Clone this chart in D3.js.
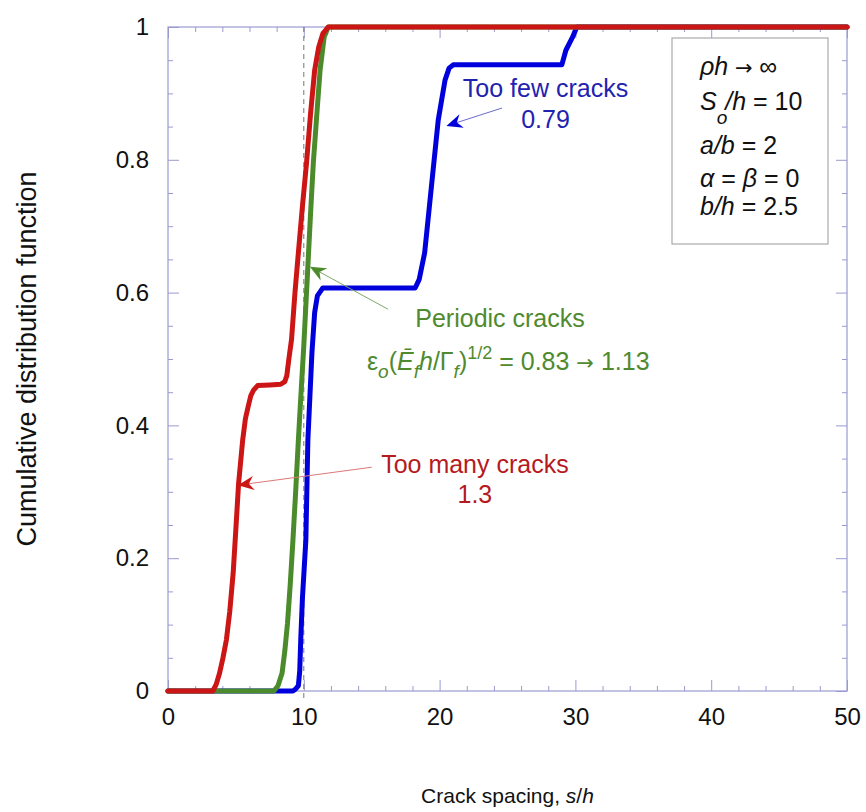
<!DOCTYPE html>
<html>
<head>
<meta charset="utf-8">
<script src="https://cdn.jsdelivr.net/npm/d3@7"></script>
<style>
  body { margin: 0; background: #fff; }
  svg text { font-family: "Liberation Sans", Arial, sans-serif; }
</style>
</head>
<body>
<div id="chart"></div>
<script>
// ==============================
// DATA (crack spacing s/h, CDF)
// ==============================

const tooManyCracks = [
  [0, 0], [3.3, 0], [3.55, 0.01], [3.8, 0.027], [4.05, 0.05], [4.3, 0.077],
  [4.55, 0.12], [4.8, 0.178], [5.0, 0.245], [5.2, 0.313], [5.5, 0.378],
  [5.7, 0.41], [5.9, 0.428], [6.1, 0.445], [6.3, 0.453], [6.6, 0.46],
  [7.5, 0.461], [8.3, 0.462], [8.6, 0.466], [8.75, 0.475], [8.9, 0.5],
  [9.1, 0.53], [9.35, 0.6], [9.6, 0.66], [9.9, 0.73], [10.2, 0.795],
  [10.5, 0.87], [10.8, 0.935], [11.1, 0.97], [11.4, 0.99], [11.8, 1], [50, 1],
];

const periodicCracks = [
  [0, 0], [7.8, 0], [8.1, 0.008], [8.4, 0.027], [8.6, 0.06], [8.8, 0.102],
  [9.0, 0.16], [9.2, 0.227], [9.4, 0.3], [9.6, 0.378], [9.8, 0.45],
  [10.0, 0.52], [10.3, 0.64], [10.5, 0.72], [10.7, 0.795], [11.0, 0.88],
  [11.2, 0.935], [11.5, 0.985], [11.8, 1], [50, 1],
];

const tooFewCracks = [
  [0, 0], [9.2, 0], [9.4, 0.003], [9.6, 0.008], [9.7, 0.03], [9.78, 0.08],
  [9.9, 0.14], [10.15, 0.227], [10.3, 0.378], [10.6, 0.51], [10.8, 0.57],
  [11.0, 0.595], [11.4, 0.607], [18.2, 0.607], [18.5, 0.62], [18.9, 0.66],
  [19.4, 0.76], [19.9, 0.86], [20.4, 0.92], [20.7, 0.938], [21.0, 0.943],
  [29.0, 0.943], [29.3, 0.965], [29.8, 0.985], [30.1, 1], [50, 1],
];

const xTicks = [0, 10, 20, 30, 40, 50];
const yTicks = [0, 0.2, 0.4, 0.6, 0.8, 1];

const legendLines = [
  'ρh → ∞',
  'S/h = 10',
  'a/b = 2',
  'α = β = 0',
  'b/h = 2.5',
];

// ==============================
// LAYOUT
// ==============================

const W = 866;
const H = 812;
const plot = { left: 168, right: 847, top: 27, bottom: 691 };
const axisColor = '#9a9ad0';

const colors = {
  many: '#cc1515',
  periodic: '#4b8b2b',
  few: '#0000dd',
  manyText: '#b51a1e',
  periodicText: '#4f8a2f',
  fewText: '#2222b0',
};

const svg = d3
  .select('#chart')
  .append('svg')
  .attr('width', W)
  .attr('height', H);

const x = d3.scaleLinear().domain([0, 50]).range([plot.left, plot.right]);
const y = d3.scaleLinear().domain([0, 1]).range([plot.bottom, plot.top]);

// ==============================
// AXES (inside ticks on all four sides)
// ==============================

const minorX = d3.range(0, 51, 2).filter((v) => v % 10 !== 0);
const minorY = d3.range(0, 1.001, 0.05).filter((v) => Math.abs(v * 5 - Math.round(v * 5)) > 1e-6);

function styleAxis(g) {
  g.select('.domain').remove();
  g.selectAll('line').attr('stroke', axisColor);
  g.selectAll('text')
    .attr('fill', '#111')
    .style('font-size', '24px');
}

svg.append('g')
  .attr('transform', `translate(0,${plot.bottom})`)
  .call(d3.axisBottom(x).tickValues(xTicks).tickSize(-11).tickPadding(17).tickFormat(d3.format('~g')))
  .call(styleAxis);
svg.append('g')
  .attr('transform', `translate(0,${plot.bottom})`)
  .call(d3.axisBottom(x).tickValues(minorX).tickSize(-5).tickFormat(''))
  .call(styleAxis);
svg.append('g')
  .attr('transform', `translate(0,${plot.top})`)
  .call(d3.axisTop(x).tickValues(xTicks).tickSize(-11).tickFormat(''))
  .call(styleAxis);
svg.append('g')
  .attr('transform', `translate(0,${plot.top})`)
  .call(d3.axisTop(x).tickValues(minorX).tickSize(-5).tickFormat(''))
  .call(styleAxis);

svg.append('g')
  .attr('transform', `translate(${plot.left},0)`)
  .call(d3.axisLeft(y).tickValues(yTicks).tickSize(-11).tickPadding(19).tickFormat(d3.format('~g')))
  .call(styleAxis);
svg.append('g')
  .attr('transform', `translate(${plot.left},0)`)
  .call(d3.axisLeft(y).tickValues(minorY).tickSize(-5).tickFormat(''))
  .call(styleAxis);
svg.append('g')
  .attr('transform', `translate(${plot.right},0)`)
  .call(d3.axisRight(y).tickValues(yTicks).tickSize(-11).tickFormat(''))
  .call(styleAxis);
svg.append('g')
  .attr('transform', `translate(${plot.right},0)`)
  .call(d3.axisRight(y).tickValues(minorY).tickSize(-5).tickFormat(''))
  .call(styleAxis);

// frame
svg.append('rect')
  .attr('x', plot.left)
  .attr('y', plot.top)
  .attr('width', plot.right - plot.left)
  .attr('height', plot.bottom - plot.top)
  .attr('fill', 'none')
  .attr('stroke', axisColor)
  .attr('stroke-width', 1.2);

// dashed reference line at s/h = 10
svg.append('line')
  .attr('x1', x(10))
  .attr('x2', x(10))
  .attr('y1', y(1))
  .attr('y2', y(0) + 10)
  .attr('stroke', '#777')
  .attr('stroke-width', 1)
  .attr('stroke-dasharray', '5,4');

// axis titles
svg.append('text')
  .attr('x', (plot.left + plot.right) / 2)
  .attr('y', 803)
  .attr('text-anchor', 'middle')
  .style('font-size', '21px')
  .attr('fill', '#111')
  .call((t) => {
    t.append('tspan').text('Crack spacing, ');
    t.append('tspan').attr('font-style', 'italic').text('s');
    t.append('tspan').text('/');
    t.append('tspan').attr('font-style', 'italic').text('h');
  });

svg.append('text')
  .attr('transform', `translate(36,${(plot.top + plot.bottom) / 2}) rotate(-90)`)
  .attr('text-anchor', 'middle')
  .style('font-size', '27px')
  .attr('fill', '#111')
  .text('Cumulative distribution function');

// ==============================
// CURVES
// ==============================

const line = d3.line().x((d) => x(d[0])).y((d) => y(d[1]));

[
  [tooFewCracks, colors.few],
  [periodicCracks, colors.periodic],
  [tooManyCracks, colors.many],
].forEach(([data, c]) => {
  svg.append('path')
    .datum(data)
    .attr('d', line)
    .attr('fill', 'none')
    .attr('stroke', c)
    .attr('stroke-width', 5)
    .attr('stroke-linejoin', 'round')
    .attr('stroke-linecap', 'round');
});

// ==============================
// ANNOTATIONS
// ==============================

function arrow(from, to, lineColor, headColor) {
  const x1 = x(from[0]), y1 = y(from[1]);
  const x2 = x(to[0]), y2 = y(to[1]);
  const ang = Math.atan2(y2 - y1, x2 - x1);
  const L = 16, Wd = 7, notch = 5;
  const bx = x2 - L * Math.cos(ang), by = y2 - L * Math.sin(ang);
  const nx = x2 - (L - notch) * Math.cos(ang), ny = y2 - (L - notch) * Math.sin(ang);
  const px = -Math.sin(ang) * Wd, py = Math.cos(ang) * Wd;
  svg.append('line')
    .attr('x1', x1).attr('y1', y1)
    .attr('x2', nx).attr('y2', ny)
    .attr('stroke', lineColor)
    .attr('stroke-width', 1);
  svg.append('path')
    .attr('d', `M${x2},${y2}L${bx + px},${by + py}L${nx},${ny}L${bx - px},${by - py}Z`)
    .attr('fill', headColor);
}

function label(xv, yv, str, color, anchor = 'middle') {
  return svg.append('text')
    .attr('x', x(xv))
    .attr('y', y(yv))
    .attr('text-anchor', anchor)
    .style('font-size', '25px')
    .attr('fill', color)
    .text(str);
}

// too few cracks (blue)
label(27.8, 0.895, 'Too few cracks', colors.fewText);
label(27.8, 0.848, '0.79', colors.fewText);
arrow([24.6, 0.878], [20.5, 0.851], '#6a6ad0', colors.few);

// periodic cracks (green)
label(24.45, 0.548, 'Periodic cracks', colors.periodicText);
arrow([16.2, 0.575], [10.45, 0.639], '#7fa86a', colors.periodic);

const formula = svg.append('text')
  .attr('x', x(14.65))
  .attr('y', y(0.483))
  .style('font-size', '25px')
  .attr('fill', colors.periodicText);
formula.append('tspan').text('ε');
formula.append('tspan').attr('font-style', 'italic').attr('dy', 8).style('font-size', '19px').text('o');
formula.append('tspan').attr('dy', -8).text('(');
formula.append('tspan').attr('font-style', 'italic').text('Ē');
formula.append('tspan').attr('font-style', 'italic').attr('dy', 8).style('font-size', '19px').text('f');
formula.append('tspan').attr('font-style', 'italic').attr('dy', -8).text('h');
formula.append('tspan').text('/Γ');
formula.append('tspan').attr('font-style', 'italic').attr('dy', 8).style('font-size', '19px').text('f');
formula.append('tspan').attr('dy', -8).text(')');
formula.append('tspan').attr('dy', -11).style('font-size', '18px').text('1/2');
formula.append('tspan').attr('dy', 11).text(' = 0.83 ');
formula.append('tspan').style('font-family', '"DejaVu Sans"').style('font-size', '21px').text('→');
formula.append('tspan').text(' 1.13');

// too many cracks (red)
label(22.6, 0.328, 'Too many cracks', colors.manyText);
label(22.6, 0.283, '1.3', colors.manyText);
arrow([15.0, 0.337], [5.15, 0.31], '#dd7777', colors.many);

// ==============================
// PARAMETER BOX
// ==============================

const box = { x: 672, y: 38, w: 156, h: 206 };
svg.append('rect')
  .attr('x', box.x).attr('y', box.y)
  .attr('width', box.w).attr('height', box.h)
  .attr('fill', '#fff')
  .attr('stroke', '#999')
  .attr('stroke-width', 1);

const baselines = [75, 110, 154, 187, 215];
const legendG = svg.append('g').style('font-size', '25px').attr('fill', '#111');

legendLines.forEach((s, i) => {
  const t = legendG.append('text').attr('x', 700).attr('y', baselines[i]);
  if (i === 0) {
    t.append('tspan').attr('font-style', 'italic').text('ρh');
    t.append('tspan').style('font-family', '"DejaVu Sans"').style('font-size', '21px').text(' → ');
    t.append('tspan').text('∞');
  } else if (i === 1) {
    t.append('tspan').attr('font-style', 'italic').text('S');
    t.append('tspan').attr('font-style', 'italic').attr('dy', 14).style('font-size', '19px').text('o');
    t.append('tspan').attr('font-style', 'italic').attr('dx', -2).attr('dy', -14).text('/h');
    t.append('tspan').text(' = 10');
  } else if (i === 2) {
    t.append('tspan').attr('font-style', 'italic').text('a/b');
    t.append('tspan').text(' = 2');
  } else if (i === 3) {
    t.append('tspan').attr('font-style', 'italic').text('α');
    t.append('tspan').text(' = ');
    t.append('tspan').attr('font-style', 'italic').text('β');
    t.append('tspan').text(' = 0');
  } else {
    t.append('tspan').attr('font-style', 'italic').text('b/h');
    t.append('tspan').text(' = 2.5');
  }
});
</script>
</body>
</html>
